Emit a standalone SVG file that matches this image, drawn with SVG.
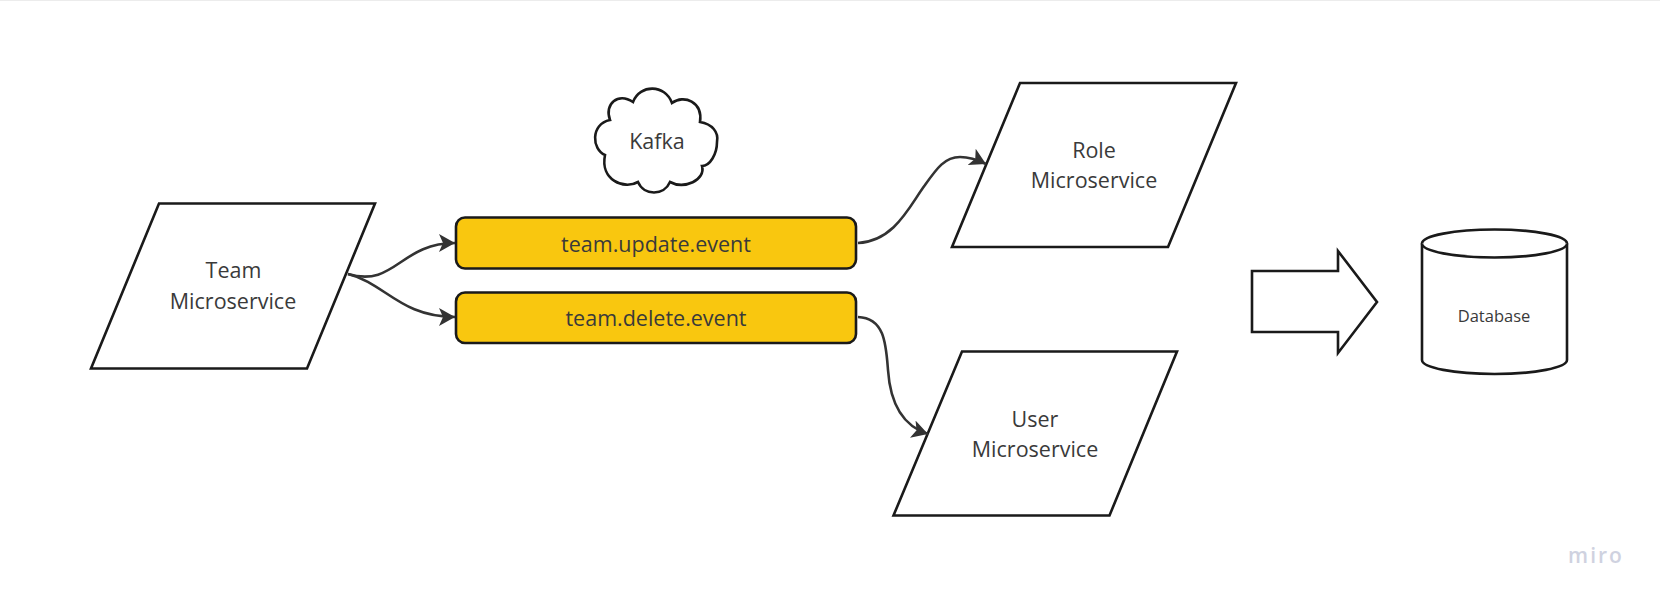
<svg xmlns="http://www.w3.org/2000/svg" width="1660" height="602" viewBox="0 0 1660 602">
<style>
.s{fill:#fff;stroke:#1a1a1a;stroke-width:2.6;stroke-linejoin:miter}
.e{fill:#f9c70f;stroke:#1a1a1a;stroke-width:2.6}
.t{font-family:"Open Sans","Noto Sans",sans-serif;font-size:21.5px;fill:#3a3a3a;text-anchor:middle}
.c{fill:none;stroke:#333;stroke-width:2.6}
</style>
<defs>
<marker id="a" markerUnits="userSpaceOnUse" markerWidth="20" markerHeight="20" refX="16" refY="10" orient="auto">
<path d="M0 1L16 10L0 19L4 10Z" fill="#333"/>
</marker>
</defs>
<rect width="1660" height="602" fill="#fff"/>
<rect width="1660" height="1" fill="#ececec"/>
<g id="team"><path class="s" d="M159 203.5H375L307 368.5H91Z"/><text class="t" x="233.500" y="278">Team</text><text class="t" x="233" y="309">Microservice</text></g>
<g id="role"><path class="s" d="M1020 83H1236L1168 247H952Z"/><text class="t" x="1094" y="158">Role</text><text class="t" x="1094" y="188">Microservice</text></g>
<g id="user"><path class="s" d="M962 351.500H1177L1109.500 515.500H893.500Z"/><text class="t" x="1035" y="426.500">User</text><text class="t" x="1035" y="456.500">Microservice</text></g>
<g id="update"><rect class="e" x="456" y="217.500" width="400" height="51" rx="9"/><text class="t" x="656" y="251.500">team.update.event</text></g>
<g id="delete"><rect class="e" x="456" y="292.500" width="400" height="50.500" rx="9"/><text class="t" x="656" y="325.500">team.delete.event</text></g>
<g id="kafka"><path class="s" d="M610 120C604 104 618 92 633 102C640 84 665 84 672 103C684 94 703 102 700 122C712 124 719 132 717 142C717 154 710 166 702 166C706 180 684 190 670 182C664 196 644 196 638 182C624 190 600 180 605 155C592 150 590 124 610 120Z"/><text class="t" x="657" y="149">Kafka</text></g>
<g id="arrow"><path class="s" d="M1252 271H1338V251L1377 302L1338 353V332H1252Z"/></g>
<g id="database"><path class="s" d="M1422 243.500A72.500 14 0 0 1 1567 243.500V360A72.500 14 0 0 1 1422 360Z"/><path class="s" fill="none" d="M1422 243.500A72.500 14 0 0 0 1567 243.500"/><text class="t" x="1494" y="322" style="font-size:16.500px">Database</text></g>
<g id="connectors">
<path class="c" marker-end="url(#a)" d="M348 274C395 288 400 243 455 243"/>
<path class="c" marker-end="url(#a)" d="M348 274C385 283 400 317 455 317"/>
<path class="c" marker-end="url(#a)" d="M858 243C895 241 910 205 925 185C937 168 945 157 960 157C968 157 978 160 986 164"/>
<path class="c" marker-end="url(#a)" d="M858 317C885 318 886 345 888 370C890 400 900 425 928 434"/>
</g>
<text x="1596" y="563" style="font-family:'Open Sans',sans-serif;font-size:21px;font-weight:600;fill:#cfd2e0;text-anchor:middle;letter-spacing:2px">miro</text>
</svg>
